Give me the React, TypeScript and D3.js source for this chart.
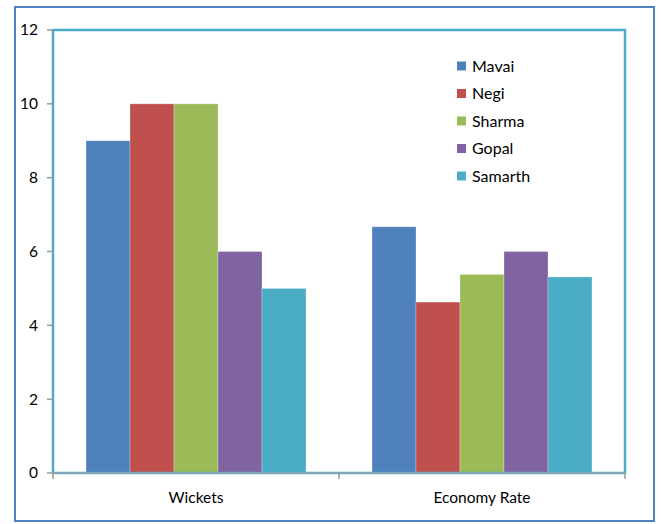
import React from "react";
import * as d3 from "d3";

const categories = ["Wickets", "Economy Rate"];
const players = ["Mavai", "Negi", "Sharma", "Gopal", "Samarth"];
const wickets = [9, 10, 10, 6, 5];
const economy = [6.67, 4.63, 5.38, 6.0, 5.31];
const colors = ["#4F81BD", "#C0504D", "#9BBB59", "#8064A2", "#4BACC6"];
const yTicks = [0, 2, 4, 6, 8, 10, 12];

const W = 661;
const H = 524;
const left = 53, right = 625, top = 30, bottom = 473;
const font = "Lato, 'Open Sans', sans-serif";

export default function App() {
  const series = [wickets, economy];
  const x = d3.scaleBand<string>().domain(categories).range([left, right]).paddingInner(0).paddingOuter(0);
  const inner = d3.scaleBand<string>().domain(players).range([0, x.bandwidth()]).paddingOuter(0.75).paddingInner(0);
  const y = d3.scaleLinear().domain([0, 12]).range([bottom, top]);

  return (
    <svg width={W} height={H} style={{ position: "absolute", left: 0, top: 0 }} fontFamily={font}>
      <rect x={0} y={0} width={W} height={H} fill="#fff" />
      <rect x={15} y={7} width={639} height={514} fill="none" stroke="#4F81BD" strokeWidth={2} />
      {categories.map((c, ci) =>
        players.map((p, pi) => {
          const v = series[ci][pi];
          return (
            <rect
              key={c + p}
              x={(x(c) as number) + (inner(p) as number)}
              y={y(v)}
              width={inner.bandwidth()}
              height={y(0) - y(v)}
              fill={colors[pi]}
              stroke="rgba(255,255,255,0.35)"
              strokeWidth={0.8}
            />
          );
        })
      )}
      <rect x={left} y={top} width={right - left} height={bottom - top} fill="none" stroke="#4BACC6" strokeWidth={2.5} />
      <line x1={left} x2={right} y1={bottom} y2={bottom} stroke="#7FA9B8" strokeWidth={2} />
      {yTicks.map((t) => (
        <g key={t}>
          <line x1={47} x2={left} y1={y(t)} y2={y(t)} stroke="#999" strokeWidth={1.5} />
          <text x={38} y={y(t)} dy="0.35em" textAnchor="end" fontSize={15.5} fill="#000">
            {t}
          </text>
        </g>
      ))}
      {[left, left + x.bandwidth(), right].map((xx, i) => (
        <line key={i} x1={xx} x2={xx} y1={bottom} y2={bottom + 6} stroke="#999" strokeWidth={1.5} />
      ))}
      {categories.map((c) => (
        <text key={c} x={(x(c) as number) + x.bandwidth() / 2} y={503} textAnchor="middle" fontSize={15.5} fill="#000">
          {c}
        </text>
      ))}
      {players.map((p, i) => (
        <g key={p} transform={`translate(457, ${66 + i * 27.5})`}>
          <rect x={0} y={-4.5} width={9} height={9} fill={colors[i]} />
          <text x={15} y={0} dy="0.35em" fontSize={16} fill="#000">
            {p}
          </text>
        </g>
      ))}
    </svg>
  );
}
